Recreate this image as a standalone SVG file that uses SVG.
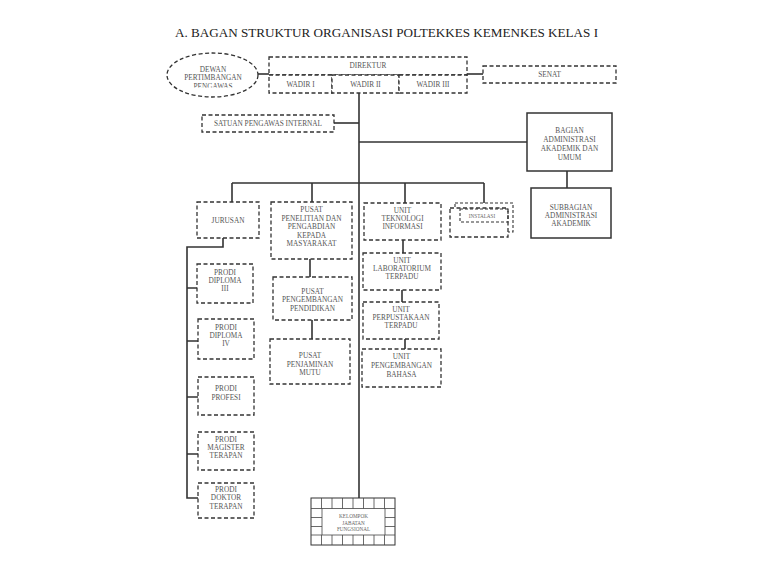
<svg xmlns="http://www.w3.org/2000/svg" width="774" height="581" viewBox="0 0 774 581">
<style>
.d{fill:#fff;stroke:#333;stroke-width:1.3;stroke-dasharray:4 2.5}
.dn{fill:none;stroke:#333;stroke-width:1.1;stroke-dasharray:3 2}
.b{fill:#fff;stroke:#333;stroke-width:1.5}
.l{fill:none;stroke:#333;stroke-width:1.6}
.g{fill:none;stroke:#444;stroke-width:0.8}
.t{font-family:"Liberation Serif",serif;font-size:7.3px;fill:#555;text-anchor:middle}
.ts{font-family:"Liberation Serif",serif;font-size:5.2px;fill:#666;text-anchor:middle}
.title{font-family:"Liberation Serif",serif;font-size:12px;fill:#222}
</style>
<defs>
<clipPath id="dwclip"><rect x="160" y="50" width="110" height="37.5"/></clipPath>
</defs>
<rect width="774" height="581" fill="#fff"/>
<text class="title" x="175" y="37" textLength="423" lengthAdjust="spacingAndGlyphs">A.  BAGAN STRUKTUR ORGANISASI POLTEKKES KEMENKES KELAS I</text>

<g id="connectors">
<path class="l" d="M258 74H269"/>
<path class="l" d="M467 74H483"/>
<path class="l" d="M359 93V498"/>
<path class="l" d="M334 123H359"/>
<path class="l" d="M359 142H527"/>
<path class="l" d="M567 171V188"/>
<path class="l" d="M232 183H484M232 183V202M312 183V202M405 183V203M484 183V203"/>
<path class="l" d="M223 238V247H187V498H198M187 288H197M187 341H198M187 397H198M187 454H198"/>
<path class="l" d="M310 259V277M312 320V339"/>
<path class="l" d="M403 240V253M402 290V302M405 339V349"/>
</g>

<g id="dewan">
<ellipse class="d" cx="212.5" cy="75" rx="45.5" ry="22"/>
<g clip-path="url(#dwclip)">
<text class="t" x="213" y="72">DEWAN</text>
<text class="t" x="213" y="80">PERTIMBANGAN</text>
<text class="t" x="213" y="88.5">PENGAWAS</text>
</g>
</g>

<g id="direktur">
<rect class="d" x="269" y="57" width="198" height="18"/>
<text class="t" x="368" y="68">DIREKTUR</text>
</g>
<g id="wadir1">
<rect class="d" x="269" y="75" width="63" height="18"/>
<text class="t" x="300.5" y="87">WADIR I</text>
</g>
<g id="wadir2">
<rect class="d" x="332" y="75" width="67" height="18"/>
<text class="t" x="365.5" y="87">WADIR II</text>
</g>
<g id="wadir3">
<rect class="d" x="399" y="75" width="68" height="18"/>
<text class="t" x="433" y="87">WADIR III</text>
</g>

<g id="senat">
<rect class="d" x="483" y="66" width="133" height="17"/>
<text class="t" x="549.5" y="77">SENAT</text>
</g>

<g id="spi">
<rect class="d" x="202" y="115" width="132" height="17"/>
<text class="t" x="268" y="126">SATUAN PENGAWAS INTERNAL</text>
</g>

<g id="bagian">
<rect class="b" x="527" y="113" width="85" height="58"/>
<text class="t" x="569.5" y="133">BAGIAN</text>
<text class="t" x="569.5" y="142">ADMINISTRASI</text>
<text class="t" x="569.5" y="151">AKADEMIK DAN</text>
<text class="t" x="569.5" y="160">UMUM</text>
</g>

<g id="subbagian">
<rect class="b" x="531" y="188" width="80" height="50"/>
<text class="t" x="571" y="210">SUBBAGIAN</text>
<text class="t" x="571" y="218">ADMINISTRASI</text>
<text class="t" x="571" y="226">AKADEMIK</text>
</g>

<g id="jurusan">
<rect class="d" x="197" y="202" width="62" height="36"/>
<text class="t" x="228" y="223">JURUSAN</text>
</g>

<g id="pusat-penelitian">
<rect class="d" x="271" y="202" width="81" height="57"/>
<text class="t" x="311.5" y="212">PUSAT</text>
<text class="t" x="311.5" y="221">PENELITIAN DAN</text>
<text class="t" x="311.5" y="229">PENGABDIAN</text>
<text class="t" x="311.5" y="238">KEPADA</text>
<text class="t" x="311.5" y="246">MASYARAKAT</text>
</g>

<g id="unit-ti">
<rect class="d" x="364" y="203" width="77" height="37"/>
<text class="t" x="402.5" y="213">UNIT</text>
<text class="t" x="402.5" y="221">TEKNOLOGI</text>
<text class="t" x="402.5" y="229">INFORMASI</text>
</g>

<g id="instalasi">
<rect class="dn" x="455" y="203" width="58" height="29"/>
<rect class="d" x="450" y="208" width="58" height="29"/>
<rect class="dn" x="460" y="209" width="48" height="13"/>
<text class="ts" x="482" y="217.5">INSTALASI</text>
</g>

<g id="prodi-d3">
<rect class="d" x="197" y="264" width="56" height="39"/>
<text class="t" x="225" y="275">PRODI</text>
<text class="t" x="225" y="283">DIPLOMA</text>
<text class="t" x="225" y="291">III</text>
</g>
<g id="prodi-d4">
<rect class="d" x="198" y="319" width="56" height="40"/>
<text class="t" x="226" y="330">PRODI</text>
<text class="t" x="226" y="338">DIPLOMA</text>
<text class="t" x="226" y="346">IV</text>
</g>
<g id="prodi-profesi">
<rect class="d" x="198" y="377" width="56" height="38"/>
<text class="t" x="226" y="391">PRODI</text>
<text class="t" x="226" y="400">PROFESI</text>
</g>
<g id="prodi-magister">
<rect class="d" x="198" y="432" width="56" height="38"/>
<text class="t" x="226" y="442">PRODI</text>
<text class="t" x="226" y="450">MAGISTER</text>
<text class="t" x="226" y="458">TERAPAN</text>
</g>
<g id="prodi-doktor">
<rect class="d" x="198" y="483" width="56" height="35"/>
<text class="t" x="226" y="492">PRODI</text>
<text class="t" x="226" y="500">DOKTOR</text>
<text class="t" x="226" y="509">TERAPAN</text>
</g>

<g id="pusat-pengembangan">
<rect class="d" x="273" y="277" width="79" height="43"/>
<text class="t" x="312.5" y="294">PUSAT</text>
<text class="t" x="312.5" y="302">PENGEMBANGAN</text>
<text class="t" x="312.5" y="311">PENDIDIKAN</text>
</g>
<g id="pusat-penjaminan">
<rect class="d" x="270" y="339" width="80" height="45"/>
<text class="t" x="310" y="358">PUSAT</text>
<text class="t" x="310" y="367">PENJAMINAN</text>
<text class="t" x="310" y="375">MUTU</text>
</g>

<g id="unit-lab">
<rect class="d" x="363" y="253" width="78" height="37"/>
<text class="t" x="402" y="263">UNIT</text>
<text class="t" x="402" y="271">LABORATORIUM</text>
<text class="t" x="402" y="279">TERPADU</text>
</g>
<g id="unit-perpustakaan">
<rect class="d" x="363" y="302" width="76" height="37"/>
<text class="t" x="401" y="312">UNIT</text>
<text class="t" x="401" y="320">PERPUSTAKAAN</text>
<text class="t" x="401" y="328">TERPADU</text>
</g>
<g id="unit-bahasa">
<rect class="d" x="362" y="349" width="79" height="38"/>
<text class="t" x="401.5" y="359">UNIT</text>
<text class="t" x="401.5" y="368">PENGEMBANGAN</text>
<text class="t" x="401.5" y="377">BAHASA</text>
</g>

<g id="kelompok">
<rect fill="#fff" stroke="#333" stroke-width="1" x="311" y="498" width="84" height="47"/>
<path class="g" d="M311 508.5H395M311 535H395M322 508.5V535M385 508.5V535M321.5 498V508.5M332 498V508.5M342.5 498V508.5M353 498V508.5M363.5 498V508.5M374 498V508.5M384.5 498V508.5M321.5 535V545M332 535V545M342.5 535V545M353 535V545M363.5 535V545M374 535V545M384.5 535V545M311 517.5H322M311 526.5H322M385 517.5H395M385 526.5H395"/>
<text class="ts" x="353.5" y="518">KELOMPOK</text>
<text class="ts" x="353.5" y="524.5">JABATAN</text>
<text class="ts" x="353.5" y="531">FUNGSIONAL</text>
</g>
</svg>
